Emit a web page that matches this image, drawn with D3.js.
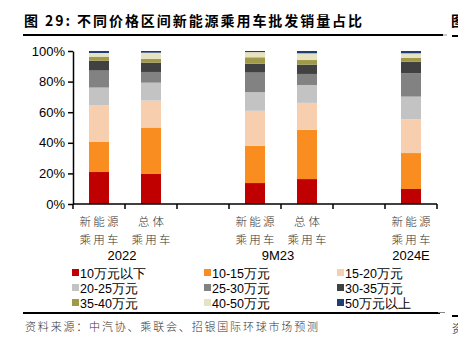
<!DOCTYPE html>
<html>
<head>
<meta charset="utf-8">
<script src="https://cdn.jsdelivr.net/npm/d3@7"></script>
<style>
  body { margin: 0; background: #fff; }
  svg { display: block; }
</style>
</head>
<body>
<svg id="chart" width="458" height="341"></svg>
<script>
// categories (blank slots keep the gaps between years)
const cats = ['c1', 'c2', 'g1', 'c3', 'c4', 'g2', 'c5']
const catLabels = {c1: ['新能源', '乘用车'], c2: ['总体', '乘用车'], c3: ['新能源', '乘用车'], c4: ['总体', '乘用车'], c5: ['新能源', '乘用车']}
const years = [['2022', 'c1', 'c2'], ['9M23', 'c3', 'c4'], ['2024E', 'c5', 'c5']]

const seriesNames = ['10万元以下', '10-15万元', '15-20万元', '20-25万元', '25-30万元', '30-35万元', '35-40万元', '40-50万元', '50万元以上']
const colors = ['#C00000', '#F98D1F', '#F8CFAE', '#C3C3C3', '#828282', '#414141', '#A09A48', '#E6E2C2', '#1F3E73']

// percentages per bar, bottom to top
const v2022nev   = [20.9, 19.9, 23.8, 11.5, 11.1, 6.5, 2.6, 2.4, 1.3]
const v2022all   = [19.6, 30.4, 17.6, 11.7, 7.0, 6.1, 2.4, 4.1, 1.1]
const v9m23nev   = [13.7, 24.3, 22.9, 12.2, 12.8, 5.8, 4.2, 3.4, 0.7]
const v9m23all   = [16.3, 32.2, 17.6, 11.7, 7.2, 6.1, 3.0, 4.4, 1.5]
const v2024nev   = [9.8, 23.5, 22.1, 14.8, 15.2, 7.6, 2.6, 2.9, 1.5]
const barValues = {c1: v2022nev, c2: v2022all, c3: v9m23nev, c4: v9m23all, c5: v2024nev}

const yTicks = [0, 20, 40, 60, 80, 100]

const svg = d3.select('#chart')
const numFont = '"Liberation Sans", Arial, sans-serif'
const cjkFont = '"Noto Sans CJK SC", sans-serif'

// title (page header, the neighbour figure's title is cut at the right edge)
svg.append('text').attr('x', 24).attr('y', 26)
  .attr('textLength', 338).attr('lengthAdjust', 'spacing')
  .style('font-family', cjkFont).style('font-size', '14px').style('font-weight', 'bold').attr('fill', '#000')
  .text('图 29: 不同价格区间新能源乘用车批发销量占比')
svg.append('text').attr('x', 451).attr('y', 26)
  .style('font-family', cjkFont).style('font-size', '14px').style('font-weight', 'bold').attr('fill', '#000')
  .text('图')
svg.append('line').attr('x1', 23).attr('x2', 443).attr('y1', 35).attr('y2', 35).attr('stroke', '#000').attr('stroke-width', 2)
svg.append('line').attr('x1', 443).attr('x2', 447).attr('y1', 35).attr('y2', 35).attr('stroke', '#999').attr('stroke-width', 1)
svg.append('line').attr('x1', 452).attr('x2', 458).attr('y1', 36).attr('y2', 36).attr('stroke', '#000').attr('stroke-width', 2)

const margin = {left: 73, top: 51, right: 21, bottom: 137}
const width = 458 - margin.left - margin.right
const height = 341 - margin.top - margin.bottom

const x = d3.scaleBand().domain(cats).range([0, width]).paddingInner(0).paddingOuter(0)
const y = d3.scaleLinear().domain([0, 100]).range([height, 0])

const g = svg.append('g').attr('transform', `translate(${margin.left},${margin.top})`)

// stacked bars
const barW = 20
cats.filter(c => barValues[c]).forEach(c => {
  let acc = 0
  barValues[c].forEach((v, i) => {
    g.append('rect')
      .attr('x', x(c) + x.bandwidth() / 2 - barW / 2)
      .attr('y', y(acc + v))
      .attr('width', barW)
      .attr('height', y(acc) - y(acc + v))
      .attr('fill', colors[i])
    acc += v
  })
})

// y axis
const yAxis = g.append('g').call(d3.axisLeft(y).tickValues(yTicks).tickFormat(d => d + '%').tickSize(5).tickSizeOuter(0))
yAxis.select('.domain').attr('stroke', '#000').attr('stroke-width', 1.5)
yAxis.selectAll('.tick line').attr('stroke', '#000').attr('stroke-width', 1.5)
yAxis.selectAll('.tick text').style('font-family', numFont).style('font-size', '13px').attr('fill', '#000').attr('x', -8)

// x axis with ticks at the band boundaries
const xAxis = g.append('g').attr('transform', `translate(0,${height})`)
xAxis.append('line').attr('x1', 0).attr('x2', width).attr('y1', 0).attr('y2', 0).attr('stroke', '#000').attr('stroke-width', 1.5)
cats.concat(['end']).forEach((c, i) => {
  const xx = i < cats.length ? x(c) : width
  xAxis.append('line').attr('x1', xx).attr('x2', xx).attr('y1', 0).attr('y2', 5).attr('stroke', '#000').attr('stroke-width', 1.5)
})
cats.filter(c => catLabels[c]).forEach(c => {
  catLabels[c].forEach((t, k) => {
    xAxis.append('text').attr('x', x(c) + x.bandwidth() / 2).attr('y', 22 + k * 18)
      .attr('text-anchor', 'middle')
      .attr('textLength', t.length * 13).attr('lengthAdjust', 'spacing')
      .style('font-family', cjkFont).style('font-size', '11.5px').style('font-weight', 300)
      .attr('fill', '#333')
      .text(t)
  })
})
years.forEach(([t, a, b]) => {
  const cx = (x(a) + x(b) + x.bandwidth()) / 2 - (a === b ? 0 : 3)
  xAxis.append('text').attr('x', cx).attr('y', 56).attr('text-anchor', 'middle')
    .style('font-family', numFont).style('font-size', '13px').attr('fill', '#000')
    .text(t)
})

// legend
const legCols = [72, 204, 337]
const legRows = [273, 288, 303]
seriesNames.forEach((n, i) => {
  const lx = legCols[i % 3], ly = legRows[Math.floor(i / 3)]
  svg.append('rect').attr('x', lx).attr('y', ly - 4).attr('width', 7).attr('height', 7).attr('fill', colors[i])
  svg.append('text').attr('x', lx + 8).attr('y', ly + 4.5)
    .style('font-family', numFont).style('font-size', '12.5px').attr('fill', '#000')
    .text(n)
})

// bottom rule and source
svg.append('line').attr('x1', 23).attr('x2', 440).attr('y1', 313).attr('y2', 313).attr('stroke', '#000').attr('stroke-width', 2)
svg.append('line').attr('x1', 438).attr('x2', 445).attr('y1', 312.5).attr('y2', 312.5).attr('stroke', '#888').attr('stroke-width', 1)
svg.append('line').attr('x1', 452).attr('x2', 458).attr('y1', 316).attr('y2', 316).attr('stroke', '#000').attr('stroke-width', 2)
svg.append('text').attr('x', 25).attr('y', 331)
  .attr('textLength', 293).attr('lengthAdjust', 'spacing')
  .style('font-family', cjkFont).style('font-size', '11px').style('font-weight', 300).attr('fill', '#333')
  .text('资料来源：中汽协、乘联会、招银国际环球市场预测')
svg.append('text').attr('x', 452).attr('y', 333)
  .style('font-family', cjkFont).style('font-size', '11px').attr('fill', '#555')
  .text('资')
</script>
</body>
</html>
